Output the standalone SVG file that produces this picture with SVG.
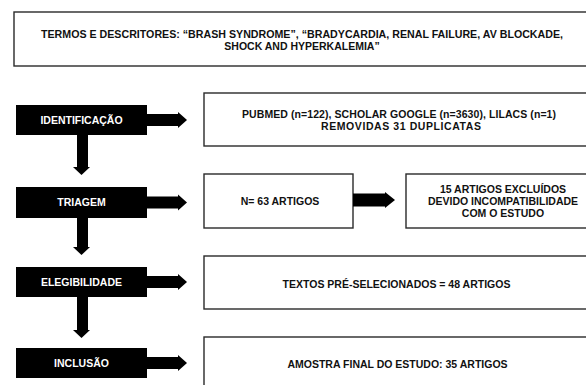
<svg xmlns="http://www.w3.org/2000/svg" width="586" height="385" viewBox="0 0 586 385">
<style>
.box{fill:#fff;stroke:#2a2a2a;stroke-width:1.4}
.blk{fill:#000}
.t{font-family:"Liberation Sans",Arial,sans-serif;font-weight:bold;font-size:10.5px;fill:#111;text-anchor:middle}
.w{fill:#fff}
.arr{fill:#000}
</style>
<rect width="586" height="385" fill="#fff"/>
<g id="termos">
<rect class="box" x="14" y="12" width="580" height="54"/>
<text class="t" x="302" y="38" textLength="522" lengthAdjust="spacingAndGlyphs">TERMOS E DESCRITORES: “BRASH SYNDROME”, “BRADYCARDIA, RENAL FAILURE, AV BLOCKADE,</text>
<text class="t" x="302" y="50">SHOCK AND HYPERKALEMIA”</text>
</g>
<g id="identificacao">
<rect class="blk" x="16" y="105" width="131" height="30"/>
<text class="t w" x="81.5" y="123.8">IDENTIFICAÇÃO</text>
</g>
<g id="bases">
<rect class="box" x="204" y="93" width="390" height="53"/>
<text class="t" x="399" y="117.5" textLength="314" lengthAdjust="spacing">PUBMED (n=122), SCHOLAR GOOGLE (n=3630), LILACS (n=1)</text>
<text class="t" x="401" y="130" textLength="160" lengthAdjust="spacing">REMOVIDAS 31 DUPLICATAS</text>
</g>
<g id="triagem">
<rect class="blk" x="16" y="187" width="131" height="31"/>
<text class="t w" x="81.5" y="206.3">TRIAGEM</text>
</g>
<g id="n63">
<rect class="box" x="204" y="174" width="149" height="54"/>
<text class="t" x="280" y="205">N= 63 ARTIGOS</text>
</g>
<g id="excluidos">
<rect class="box" x="406" y="174" width="200" height="54"/>
<text class="t" x="503" y="192.5">15 ARTIGOS EXCLUÍDOS</text>
<text class="t" x="503" y="204.5">DEVIDO INCOMPATIBILIDADE</text>
<text class="t" x="503" y="216.5">COM O ESTUDO</text>
</g>
<g id="elegibilidade">
<rect class="blk" x="16" y="267" width="131" height="30"/>
<text class="t w" x="81.5" y="285.8">ELEGIBILIDADE</text>
</g>
<g id="preselecionados">
<rect class="box" x="204" y="256" width="390" height="53"/>
<text class="t" x="396.5" y="288">TEXTOS PRÉ-SELECIONADOS = 48 ARTIGOS</text>
</g>
<g id="inclusao">
<rect class="blk" x="16" y="348" width="131" height="30"/>
<text class="t w" x="81.5" y="366.8">INCLUSÃO</text>
</g>
<g id="amostra">
<rect class="box" x="204" y="337" width="390" height="60"/>
<text class="t" x="397.5" y="368">AMOSTRA FINAL DO ESTUDO: 35 ARTIGOS</text>
</g>
<g id="connectors">
<path class="arr" d="M147,114H178V112L187,120L178,128V126H147Z"/>
<path class="arr" d="M147,196.5H178V194.5L187,202.5L178,210.5V208.5H147Z"/>
<path class="arr" d="M147,276H178V274L187,282L178,290V288H147Z"/>
<path class="arr" d="M147,357H178V355L187,363L178,371V369H147Z"/>
<path class="arr" d="M353,193.5H385V192L395,200L385,208V206.5H353Z"/>
<path class="arr" d="M77,135H88V167H90L81.5,175L73,167H77Z"/>
<path class="arr" d="M77,218H88V247H90L81.5,255L73,247H77Z"/>
<path class="arr" d="M77,297H88V330H90L81.5,338L73,330H77Z"/>
</g>
</svg>
